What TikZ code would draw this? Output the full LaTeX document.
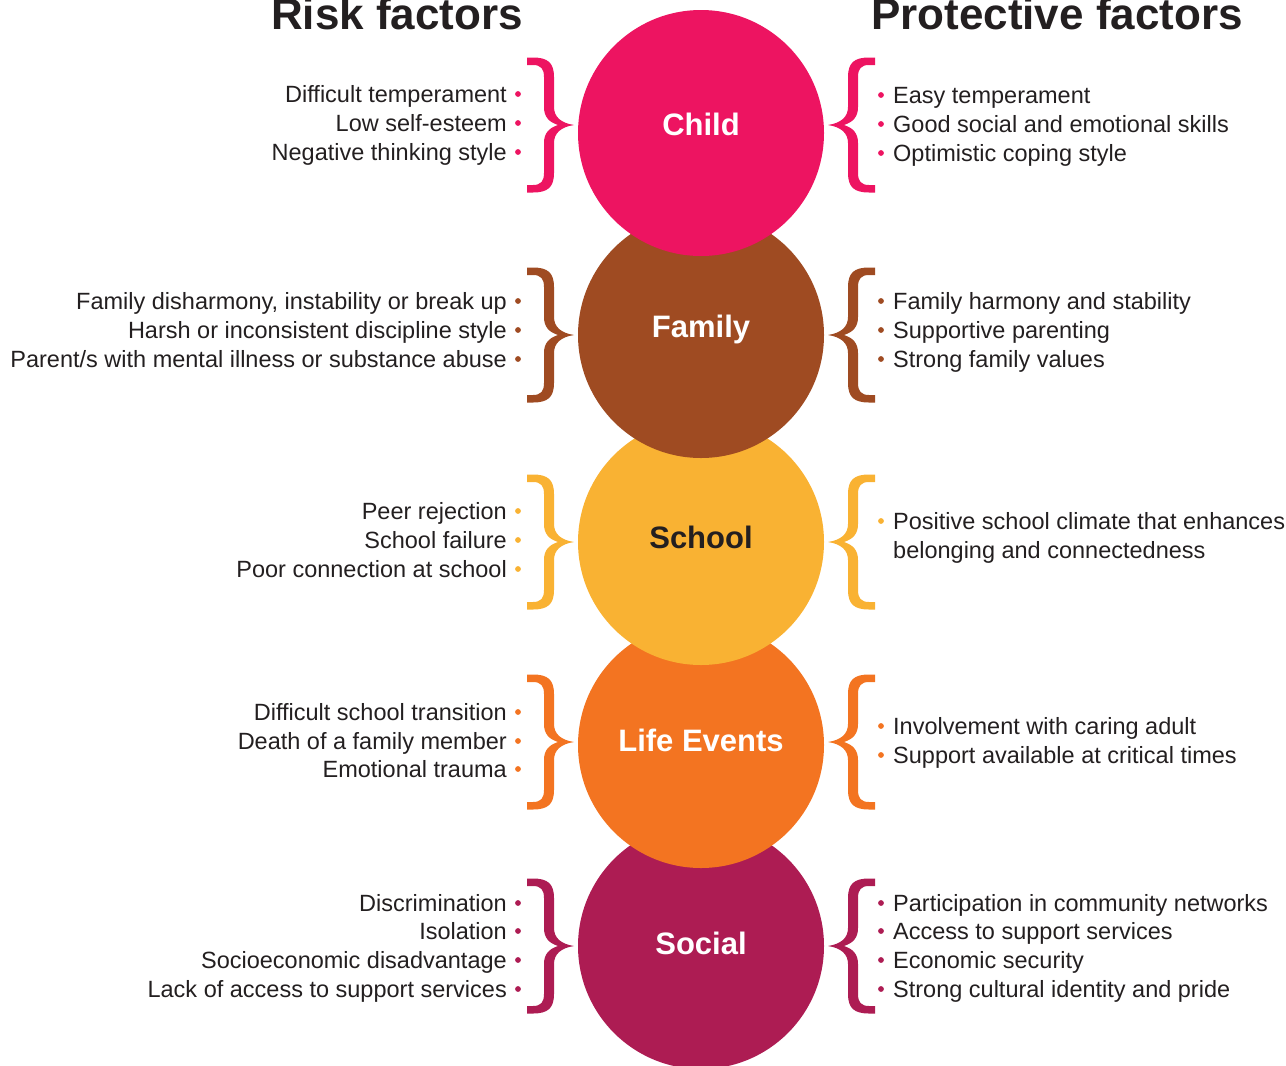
\documentclass[tikz,border=0pt]{standalone}
\usepackage{fontspec}
\setmainfont{Liberation Sans}
\definecolor{txt}{HTML}{231F20}
\definecolor{cChild}{HTML}{ED1461}
\definecolor{cFamily}{HTML}{9F4B22}
\definecolor{cSchool}{HTML}{F9B233}
\definecolor{cLife}{HTML}{F37421}
\definecolor{cSocial}{HTML}{AD1C53}
\tikzset{
  ball/.style={circle, inner sep=0pt, minimum size=246pt},
  balltext/.style={font=\fontsize{31}{36}\selectfont\bfseries, text=white, inner sep=0pt},
  lt/.style={anchor=base east, font=\fontsize{23.5}{29}\selectfont, text=txt, inner sep=0pt},
  rt/.style={anchor=base west, font=\fontsize{23.5}{29}\selectfont, text=txt, inner sep=0pt},
  dotn/.style={circle, inner sep=0pt, minimum size=5.8pt},
  title/.style={anchor=base, font=\fontsize{44}{50}\selectfont\bfseries, text=txt, inner sep=0pt}
}
\newcommand\lft[4]{\node[lt] (#1) at (507,#2) {#4};
  \node[dotn, fill=#3] (#1d) at (518,#2-8.5) {};}
\newcommand\rgt[4]{\node[rt] (#1) at (893,#2) {#4};
  \node[dotn, fill=#3] (#1d) at (881,#2-8.5) {};}
\newcommand\bracepath{(-174,-67.5) -- (-168,-67.5) .. controls (-153,-67.5) and (-147,-62) .. (-147,-48) -- (-147,-18) .. controls (-147,-8) and (-140,-2) .. (-127,0) .. controls (-140,2) and (-147,8) .. (-147,18) -- (-147,48) .. controls (-147,62) and (-153,67.5) .. (-168,67.5) -- (-174,67.5) -- (-174,60) -- (-168,60) .. controls (-160,60) and (-157,56) .. (-157,48) -- (-157,18) .. controls (-157,8) and (-152,3) .. (-143,0) .. controls (-152,-3) and (-157,-8) .. (-157,-18) -- (-157,-48) .. controls (-157,-56) and (-160,-60) .. (-168,-60) -- (-174,-60) -- cycle}
\newcommand\bracepair[2]{%
  \begin{scope}[shift={(701,#1)}]\fill[#2] \bracepath;\end{scope}
  \begin{scope}[shift={(701,#1)}, xscale=-1]\fill[#2] \bracepath;\end{scope}}
\begin{document}
\begin{tikzpicture}[x=1pt, y=-1pt]
\useasboundingbox (0,0) rectangle (1286,1066);
% titles
\node[title] (risk) at (397,29) {Risk factors};
\node[title] (prot) at (1057,29) {Protective factors};
% circles, bottom to top
\node[ball, fill=cSocial] (social) at (701,946) {};
\node[ball, fill=cLife] (life) at (701,745) {};
\node[ball, fill=cSchool] (school) at (701,542) {};
\node[ball, fill=cFamily] (family) at (701,335) {};
\node[ball, fill=cChild] (child) at (701,133) {};
\node[balltext] (childt) at (701,124) {Child};
\node[balltext] (familyt) at (701,329) {Family};
\node[balltext, text=txt] (schoolt) at (701,537) {School};
\node[balltext] (lifet) at (701,740) {Life Events};
\node[balltext] (socialt) at (701,943) {Social};
% braces
\bracepair{125}{cChild}
\bracepair{335}{cFamily}
\bracepair{542}{cSchool}
\bracepair{742}{cLife}
\bracepair{946}{cSocial}
% child
\lft{cl1}{102.5}{cChild}{Difficult temperament}
\lft{cl2}{131.5}{cChild}{Low self-esteem}
\lft{cl3}{160.5}{cChild}{Negative thinking style}
\rgt{cr1}{103.5}{cChild}{Easy temperament}
\rgt{cr2}{132.5}{cChild}{Good social and emotional skills}
\rgt{cr3}{161.5}{cChild}{Optimistic coping style}
% family
\lft{fl1}{309.5}{cFamily}{Family disharmony, instability or break up}
\lft{fl2}{338.5}{cFamily}{Harsh or inconsistent discipline style}
\lft{fl3}{367.5}{cFamily}{Parent/s with mental illness or substance abuse}
\rgt{fr1}{309.5}{cFamily}{Family harmony and stability}
\rgt{fr2}{338.5}{cFamily}{Supportive parenting}
\rgt{fr3}{367.5}{cFamily}{Strong family values}
% school
\lft{sl1}{519.5}{cSchool}{Peer rejection}
\lft{sl2}{548.5}{cSchool}{School failure}
\lft{sl3}{577.5}{cSchool}{Poor connection at school}
\rgt{sr1}{529.5}{cSchool}{Positive school climate that enhances}
\node[rt] (sr2) at (893,558.5) {belonging and connectedness};
% life events
\lft{ll1}{720.5}{cLife}{Difficult school transition}
\lft{ll2}{749.5}{cLife}{Death of a family member}
\lft{ll3}{777.5}{cLife}{Emotional trauma}
\rgt{lr1}{734.5}{cLife}{Involvement with caring adult}
\rgt{lr2}{763.5}{cLife}{Support available at critical times}
% social
\lft{ol1}{911.5}{cSocial}{Discrimination}
\lft{ol2}{939.5}{cSocial}{Isolation}
\lft{ol3}{968.5}{cSocial}{Socioeconomic disadvantage}
\lft{ol4}{997.5}{cSocial}{Lack of access to support services}
\rgt{or1}{911.5}{cSocial}{Participation in community networks}
\rgt{or2}{939.5}{cSocial}{Access to support services}
\rgt{or3}{968.5}{cSocial}{Economic security}
\rgt{or4}{997.5}{cSocial}{Strong cultural identity and pride}
\end{tikzpicture}
\end{document}
